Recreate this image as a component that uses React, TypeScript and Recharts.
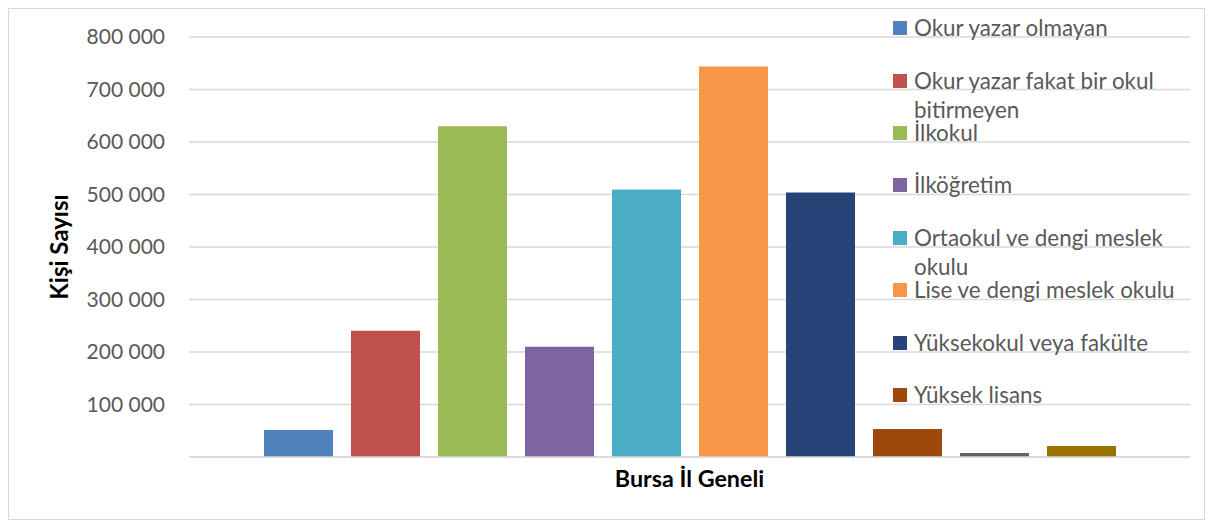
import React from 'react';
import { BarChart, Bar, XAxis, YAxis, CartesianGrid, Legend } from 'recharts';

// one category, ten education-level series
const categories = ['Bursa İl Geneli'];
const seriesNames = [
  'Okur yazar olmayan',
  'Okur yazar fakat bir okul bitirmeyen',
  'İlkokul',
  'İlköğretim',
  'Ortaokul ve dengi meslek okulu',
  'Lise ve dengi meslek okulu',
  'Yüksekokul veya fakülte',
  'Yüksek lisans',
  'Doktora',
  'Bilinmeyen',
];
const seriesValues = [51500, 240500, 630000, 210000, 509500, 744000, 504000, 53500, 7500, 21000];
const seriesColors = [
  '#4F81BD', '#C0504D', '#9BBB59', '#8064A2', '#4BACC6',
  '#F79646', '#264478', '#9E480E', '#636363', '#997300',
];
const yTicks = [0, 100000, 200000, 300000, 400000, 500000, 600000, 700000, 800000];
const yLabel = 'Kişi Sayısı';

const data = categories.map((name) => {
  const row: Record<string, string | number> = { name };
  seriesNames.forEach((_, i) => {
    row['s' + i] = seriesValues[i];
  });
  return row;
});

const FONT = 'Lato, "Open Sans", sans-serif';

const fmt = (v: number) => (v === 0 ? '' : v.toLocaleString('en-US').replace(/,/g, ' '));

// Excel cut the legend off after 8 entries; keep series order (no alphabetical sort)
const LegendBox = () => (
  <div style={{ position: 'relative', fontFamily: FONT, fontSize: 22.4, color: '#595959' }}>
    {seriesNames.slice(0, 8).map((name, i) => (
      <div
        key={name}
        style={{ position: 'absolute', left: 0, top: 19 + i * 52.4 - 14.75, display: 'flex', alignItems: 'flex-start' }}
      >
        <div style={{ width: 14, height: 14, background: seriesColors[i], marginTop: 8, marginRight: 7, flexShrink: 0 }} />
        <div style={{ width: 265, lineHeight: '29.5px', whiteSpace: 'normal' }}>{name}</div>
      </div>
    ))}
  </div>
);

const YTitle = ({ viewBox }: any) => {
  const cy = viewBox.y + viewBox.height / 2;
  return (
    <text
      x={49}
      y={cy}
      transform={`rotate(-90, 49, ${cy})`}
      textAnchor="middle"
      dominantBaseline="central"
      fontFamily={FONT}
      fontWeight={700}
      fontSize={24}
      fill="#000"
    >
      {yLabel}
    </text>
  );
};

export default function App() {
  return (
    <div style={{ width: 1195, height: 510, border: '1px solid #d9d9d9', position: 'relative', background: '#fff' }}>
      <BarChart
        width={1195}
        height={510}
        data={data}
        margin={{ top: 28, right: 14, bottom: 0, left: 0 }}
        barCategoryGap={75}
        barGap={18}
      >
        <CartesianGrid vertical={false} stroke="#d9d9d9" strokeWidth={1.5} />
        <XAxis
          dataKey="name"
          height={62}
          axisLine={{ stroke: '#d9d9d9', strokeWidth: 1.5 }}
          tickLine={false}
          tickSize={0}
          tickMargin={13}
          tick={{ fontFamily: FONT, fontSize: 23.3, fontWeight: 700, fill: '#000' }}
        />
        <YAxis
          width={180}
          domain={[0, 800000]}
          ticks={yTicks}
          interval={0}
          axisLine={false}
          tickLine={false}
          tickSize={0}
          tickMargin={24}
          tickFormatter={fmt}
          tick={{ fontFamily: FONT, fontSize: 21, fill: '#595959' }}
          label={{ content: YTitle }}
        />
        <Legend
          layout="vertical"
          align="center"
          verticalAlign="middle"
          wrapperStyle={{ left: 884, top: 0, width: 300, height: 420 }}
          content={LegendBox}
        />
        {seriesNames.map((s, i) => (
          <Bar key={s} dataKey={'s' + i} name={s} fill={seriesColors[i]} isAnimationActive={false} />
        ))}
      </BarChart>
    </div>
  );
}
